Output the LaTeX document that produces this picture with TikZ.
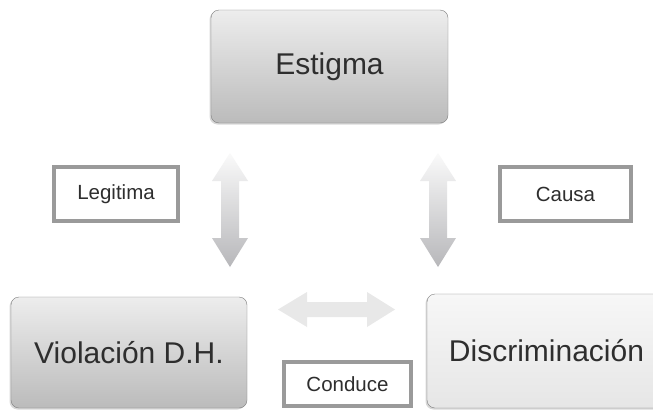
\documentclass[tikz,border=0pt]{standalone}
\usepackage{fontspec}
\setmainfont{Liberation Sans}
\usetikzlibrary{shadows}
\definecolor{framegray}{HTML}{9A9A9A}
\definecolor{edgegray}{HTML}{7E7E7E}
\definecolor{textgray}{HTML}{2E2E2E}
\definecolor{darktop}{HTML}{EDEDED}
\definecolor{darkbot}{HTML}{BBBBBB}
\definecolor{lighttop}{HTML}{F7F7F7}
\definecolor{lightbot}{HTML}{E6E6E6}
\definecolor{arrowtop}{HTML}{FAFAFA}
\definecolor{arrowbot}{HTML}{B7B7BA}
\definecolor{arrowflat}{HTML}{E8E8E8}
\tikzset{bigbox/.style = {draw=edgegray, rounded corners=8pt, inner sep=0pt,
                          minimum width=237pt, minimum height=113pt,
                          font=\fontsize{30}{32}\selectfont, text=textgray,
                          drop shadow={shadow xshift=-1.5pt, shadow yshift=-1.5pt,
                                       opacity=0.3, fill=gray}}}
\tikzset{darkbox/.style = {bigbox, top color=darktop, bottom color=darkbot}}
\tikzset{lightbox/.style = {bigbox, top color=lighttop, bottom color=lightbot}}
\tikzset{tagbox/.style = {draw=framegray, line width=4pt, fill=white, inner sep=0pt,
                          font=\fontsize{20.5}{23}\selectfont, text=textgray}}

\begin{document}
\begin{tikzpicture}[x=1pt, y=-1pt]
      \clip (0, 0) rectangle (653, 410);
      \fill [white] (0, 0) rectangle (653, 410);

      \node [darkbox] (estigma) at (329.5, 66.5) {Estigma};
      \node [darkbox, minimum width=236pt, minimum height=111pt] (violacion) at (129, 352.5) {Violación D.H.};
      \node [lightbox, minimum width=239pt, minimum height=114pt] (discrim) at (546.5, 351) {Discriminación};

      \node [tagbox, minimum width=124pt, minimum height=54pt] (legitima) at (116, 194) {Legitima};
      \node [tagbox, minimum width=131pt, minimum height=54pt] (causa) at (565.5, 194) {Causa};
      \node [tagbox, minimum width=127pt, minimum height=44pt] (conduce) at (347.5, 384) {Conduce};

      \foreach \cx in {230, 438}
        \shade [top color=arrowtop, bottom color=arrowbot]
          (\cx, 153) -- (\cx+18, 181) -- (\cx+9, 181) -- (\cx+9, 238) -- (\cx+18, 238)
          -- (\cx, 267) -- (\cx-18, 238) -- (\cx-9, 238) -- (\cx-9, 181) -- (\cx-18, 181) -- cycle;

      \fill [arrowflat] (278, 309.5) -- (307, 292) -- (307, 302) -- (367, 302) -- (367, 292)
          -- (395, 309.5) -- (367, 327) -- (367, 317) -- (307, 317) -- (307, 327) -- cycle;
    \end{tikzpicture}
\end{document}
